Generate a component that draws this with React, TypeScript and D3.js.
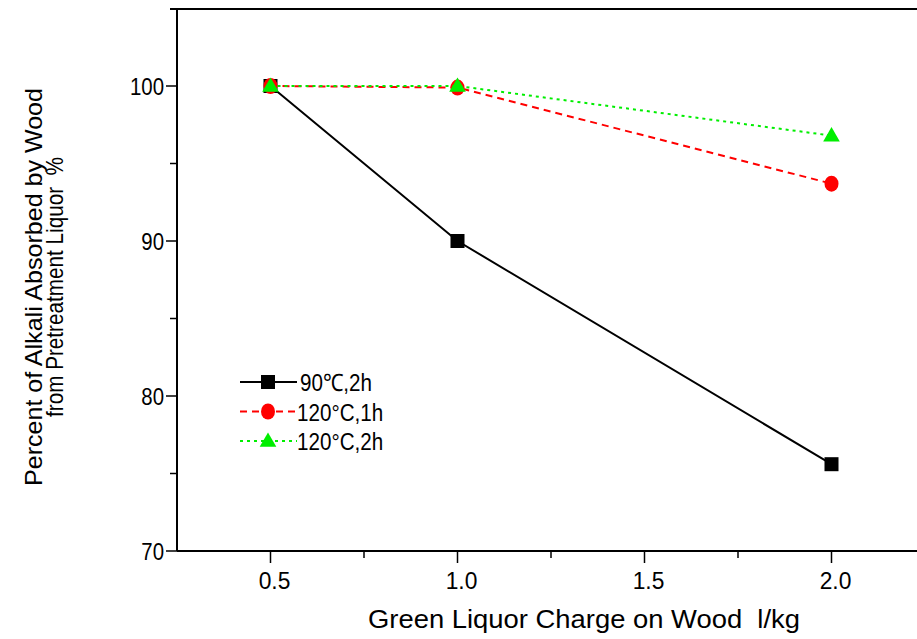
import React from "react";
import * as d3 from "d3";

// data
const charges = [0.5, 1.0, 2.0];
const s90c2h = [100, 90.0, 75.6];
const s120c1h = [100, 99.9, 93.7];
const s120c2h = [100, 100, 96.8];

const series = [
  { name: "90\u2103,2h", values: s90c2h, color: "#000000", dash: "none", marker: "square" },
  { name: "120\u00b0C,1h", values: s120c1h, color: "#ff0000", dash: "7,5", marker: "circle" },
  { name: "120\u00b0C,2h", values: s120c2h, color: "#00ee00", dash: "3,4", marker: "triangle" },
];

const xMajor = [0.5, 1.0, 1.5, 2.0];
const xMinor = [0.75, 1.25, 1.75];
const yMajor = [70, 80, 90, 100];
const yMinor = [75, 85, 95];

const W = 917, H = 639;
const font = "'Liberation Sans', Arial, sans-serif";

function Marker({ type, x, y, color }: { type: string; x: number; y: number; color: string }) {
  if (type === "square") return <rect x={x - 7} y={y - 7} width={14} height={14} fill={color} />;
  if (type === "circle") return <ellipse cx={x} cy={y} rx={7} ry={8} fill={color} />;
  const tri = d3.symbol(d3.symbolTriangle, 120)() as string;
  return <path d={tri} transform={`translate(${x},${y + 1})`} fill={color} />;
}

// narrow-ish text like the original plotting package
function T({ x, y, anchor = "start", size = 24, sx = 0.88, children }: any) {
  return (
    <text transform={`translate(${x},${y}) scale(${sx},1)`} textAnchor={anchor} fontFamily={font} fontSize={size}>
      {children}
    </text>
  );
}

export default function App() {
  const x = d3.scaleLinear().domain([0.25, 2.25]).range([177, 925]);
  const y = d3.scaleLinear().domain([70, 105]).range([551, 8.5]);
  const line = d3.line<number>().x((_, i) => x(charges[i])).y(d => y(d));

  return (
    <svg width={W} height={H} style={{ position: "absolute", left: 0, top: 0, background: "#fff" }}>
      {/* axes frame */}
      <line x1={177} x2={177} y1={8} y2={551} stroke="#000" strokeWidth={2} />
      <line x1={170} x2={W} y1={9} y2={9} stroke="#000" strokeWidth={2} />
      <line x1={177} x2={W} y1={551} y2={551} stroke="#000" strokeWidth={2} />

      {/* y ticks */}
      {yMajor.map(v => (
        <g key={v}>
          <line x1={166} x2={177} y1={y(v)} y2={y(v)} stroke="#000" strokeWidth={1.5} />
          <T x={164} y={y(v) + 8.5} anchor="end" sx={0.85}>{v}</T>
        </g>
      ))}
      {yMinor.map(v => (
        <line key={v} x1={170} x2={177} y1={y(v)} y2={y(v)} stroke="#000" strokeWidth={1.5} />
      ))}

      {/* x ticks */}
      {xMajor.map(v => (
        <g key={v}>
          <line x1={x(v)} x2={x(v)} y1={551} y2={563} stroke="#000" strokeWidth={1.5} />
          <T x={x(v) + 4} y={589} anchor="middle" sx={0.95}>{v.toFixed(1)}</T>
        </g>
      ))}
      {xMinor.map(v => (
        <line key={v} x1={x(v)} x2={x(v)} y1={551} y2={558} stroke="#000" strokeWidth={1.5} />
      ))}

      {/* axis titles */}
      <text x={368} y={628} fontFamily={font} fontSize={25} textLength={432} lengthAdjust="spacingAndGlyphs" style={{ whiteSpace: "pre" }}>
        Green Liquor Charge on Wood  l/kg
      </text>
      <g transform="rotate(-90)">
        <text x={-486} y={42} fontFamily={font} fontSize={24} textLength={398} lengthAdjust="spacingAndGlyphs">
          Percent of Alkali Absorbed by Wood
        </text>
        <text x={-417} y={63} fontFamily={font} fontSize={24} textLength={260} lengthAdjust="spacingAndGlyphs" style={{ whiteSpace: "pre" }}>
          from Pretreatment Liquor  %
        </text>
      </g>

      {/* series */}
      {series.map(s => (
        <g key={s.name}>
          <path d={line(s.values) as string} fill="none" stroke={s.color} strokeWidth={2} strokeDasharray={s.dash} />
          {s.values.map((v, i) => (
            <Marker key={i} type={s.marker} x={x(charges[i])} y={y(v)} color={s.color} />
          ))}
        </g>
      ))}

      {/* legend */}
      {series.map((s, i) => {
        const ly = 382 + i * 29.5;
        return (
          <g key={s.name}>
            <line x1={240} x2={297} y1={ly} y2={ly} stroke={s.color} strokeWidth={2} strokeDasharray={s.dash} />
            <Marker type={s.marker} x={268} y={ly} color={s.color} />
            <T x={i === 0 ? 300 : 297} y={ly + 9} sx={0.86}>{s.name}</T>
          </g>
        );
      })}
    </svg>
  );
}
